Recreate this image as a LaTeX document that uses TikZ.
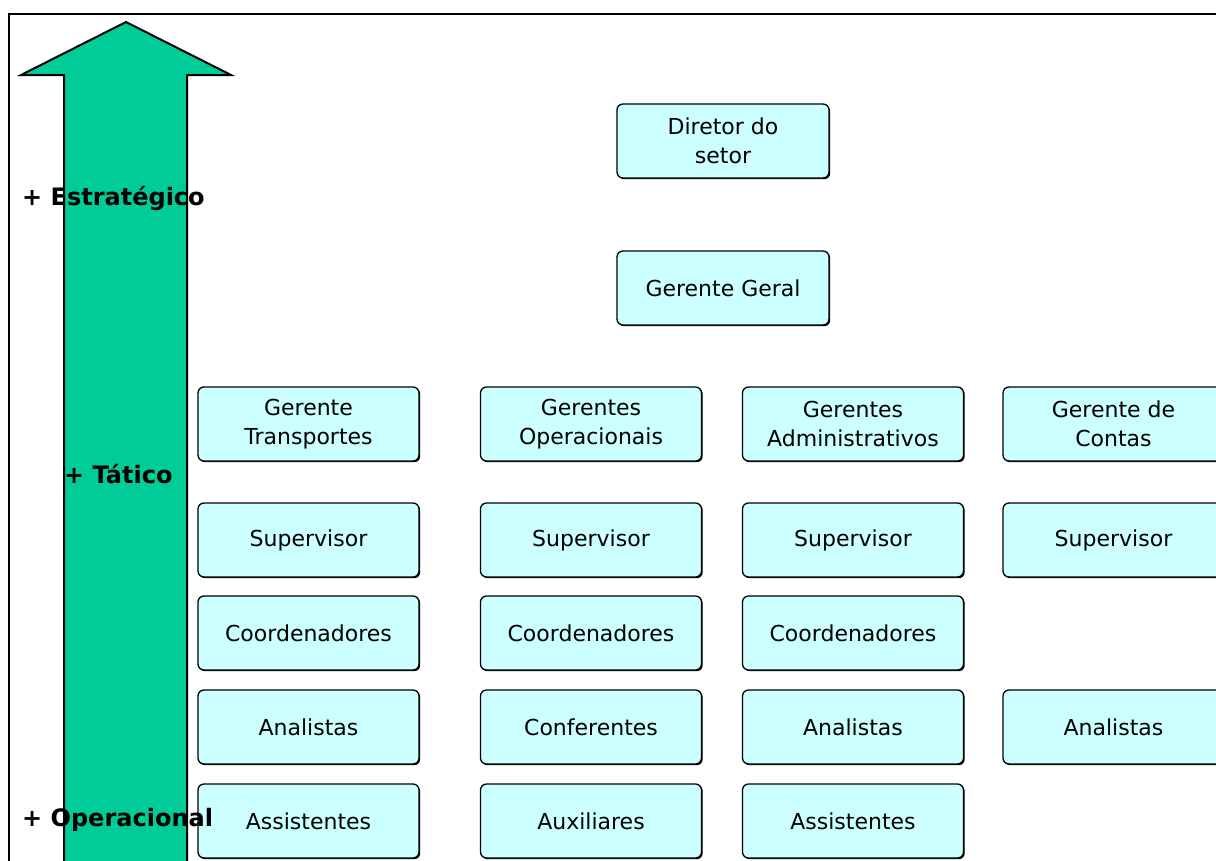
\documentclass[tikz,border=0pt]{standalone}
\usepackage{fontspec}
\setmainfont{DejaVu Sans}
\usetikzlibrary{shadows}
\definecolor{arrowgreen}{HTML}{00CC99}
\definecolor{boxcyan}{HTML}{CCFFFF}
\tikzset{
  orgbox/.style={draw=black, line width=1.3pt, fill=boxcyan, rounded corners=6pt,
    minimum width=221pt, minimum height=74pt, inner sep=0pt, align=center,
    font=\fontsize{22}{29}\selectfont,
    drop shadow={shadow xshift=1.2pt, shadow yshift=-1.2pt, fill=black, opacity=1}},
  topbox/.style={orgbox, minimum width=212pt},
  levellabel/.style={anchor=west, inner sep=0pt, font=\fontsize{24}{28}\selectfont\bfseries},
}
\begin{document}
\begin{tikzpicture}[x=1pt, y=-1pt]
\useasboundingbox (0,0) rectangle (1216,860);
\clip (0,0) rectangle (1216,860);
\fill[white] (0,0) rectangle (1216,860);
% frame
\draw[line width=2.4pt, gray!60] (9,870) -- (9,14) -- (1230,14);
\draw[line width=1.2pt, black] (9,870) -- (9,14) -- (1230,14);
% upward arrow
\draw[line width=2pt, fill=arrowgreen, line join=miter]
  (126,22) -- (231,75) -- (187,75) -- (187,870) -- (64,870) -- (64,75) -- (21,75) -- cycle;
% top of hierarchy
\node[topbox] (diretor) at (723,141) {Diretor do\\setor};
\node[topbox] (geral) at (723,288) {Gerente Geral};
% managers
\node[orgbox] (gtransp) at (308.5,424) {Gerente\\Transportes};
\node[orgbox] (gopera) at (591,424) {Gerentes\\Operacionais};
\node[orgbox] (gadmin) at (853,424) {Gerentes\\Administrativos};
\node[orgbox] (gcontas) at (1113.5,424) {Gerente de\\Contas};
% supervisors
\node[orgbox] (sup1) at (308.5,540) {Supervisor};
\node[orgbox] (sup2) at (591,540) {Supervisor};
\node[orgbox] (sup3) at (853,540) {Supervisor};
\node[orgbox] (sup4) at (1113.5,540) {Supervisor};
% coordinators
\node[orgbox] (coord1) at (308.5,633) {Coordenadores};
\node[orgbox] (coord2) at (591,633) {Coordenadores};
\node[orgbox] (coord3) at (853,633) {Coordenadores};
% analysts
\node[orgbox] (anal1) at (308.5,727) {Analistas};
\node[orgbox] (conf2) at (591,727) {Conferentes};
\node[orgbox] (anal3) at (853,727) {Analistas};
\node[orgbox] (anal4) at (1113.5,727) {Analistas};
% assistants
\node[orgbox] (assist1) at (308.5,821) {Assistentes};
\node[orgbox] (aux2) at (591,821) {Auxiliares};
\node[orgbox] (assist3) at (853,821) {Assistentes};
% level labels
\node[levellabel] (estrat) at (22,198) {+ Estratégico};
\node[levellabel] (tatico) at (64,474) {+ Tático};
\node[levellabel] (operac) at (22,820) {+ Operacional};
\end{tikzpicture}
\end{document}
